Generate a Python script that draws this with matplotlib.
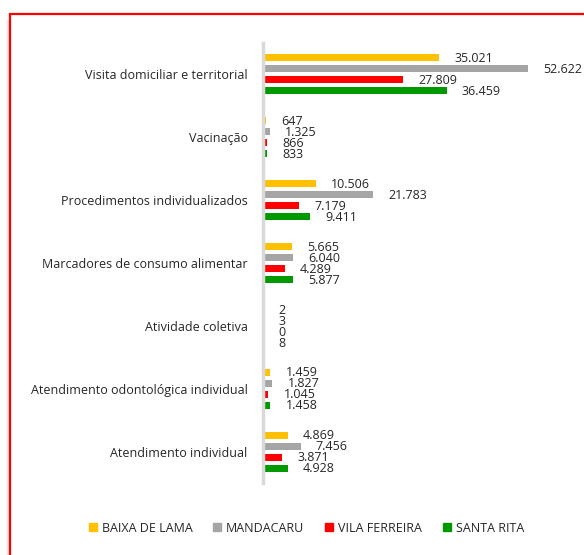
import numpy as np
import matplotlib
matplotlib.use('Agg')
import matplotlib.pyplot as plt
from matplotlib.patches import Rectangle
from matplotlib.lines import Line2D

plt.rcParams['font.family'] = ['Open Sans', 'DejaVu Sans']

categories = ['Visita domiciliar e territorial', 'Vacinação',
              'Procedimentos individualizados', 'Marcadores de consumo alimentar',
              'Atividade coletiva', 'Atendimento odontológica individual',
              'Atendimento individual']
series = ['BAIXA DE LAMA', 'MANDACARU', 'VILA FERREIRA', 'SANTA RITA']
baixa_de_lama = [35021, 647, 10506, 5665, 2, 1459, 4869]
mandacaru = [52622, 1325, 21783, 6040, 3, 1827, 7456]
vila_ferreira = [27809, 866, 7179, 4289, 0, 1045, 3871]
santa_rita = [36459, 833, 9411, 5877, 8, 1458, 4928]
colors = ['#FFC000', '#A5A5A5', '#FF0000', '#009900']

W, H = 584, 555
fig = plt.figure(figsize=(W / 100, H / 100), dpi=100)

# frame with a soft left shadow
for i, a in enumerate([0.05, 0.08, 0.12, 0.18]):
    fig.patches.append(Rectangle(((6 + i) / W, -0.1), 1 / W, 1.1 - 20 / H,
                                 transform=fig.transFigure, color='black',
                                 alpha=a, lw=0, zorder=-3))
fig.patches.append(Rectangle((10 / W, -0.1), 1.2, 1.1 - 14 / H,
                             transform=fig.transFigure, facecolor='white',
                             edgecolor='#FF0000', lw=1.6, zorder=-2))

ax = fig.add_axes([263 / W, 1 - 483 / H, 265 / W, 440 / H])
ax.set_facecolor('none')

y = np.arange(len(categories))
pitch = 11 / 63
height = 7 / 63
data = [baixa_de_lama, mandacaru, vila_ferreira, santa_rita]
for k, (vals, c) in enumerate(zip(data, colors)):
    yy = y + (k - 1.5) * pitch
    ax.barh(yy, vals, height=height, color=c, label=series[k])
    for yi, v in zip(yy, vals):
        ax.annotate(f'{v:,}'.replace(',', '.'), (v, yi), xytext=(11, -0.5),
                    textcoords='offset points', va='center', ha='left',
                    fontsize=9, color='#262626', annotation_clip=False)

ax.set_xlim(0, 52622)
ax.set_ylim(6.5, -0.5)
ax.set_yticks(y)
ax.set_yticklabels(categories, fontsize=9, color='#262626')
ax.tick_params(axis='y', length=0, pad=11)
ax.set_xticks([])
for s in ['top', 'right', 'bottom']:
    ax.spines[s].set_visible(False)
ax.spines['left'].set_color('#D9D9D9')
ax.spines['left'].set_linewidth(2.5)

handles = [Line2D([], [], marker='s', ls='', color=c, markersize=6) for c in colors]
fig.legend(handles, series, loc='center', bbox_to_anchor=(306 / W, 1 - 528 / H),
           ncol=4, frameon=False, fontsize=9, handletextpad=0.3,
           handlelength=0.8, columnspacing=1.6, labelcolor='#262626')

fig.savefig('out.png', dpi=100)
